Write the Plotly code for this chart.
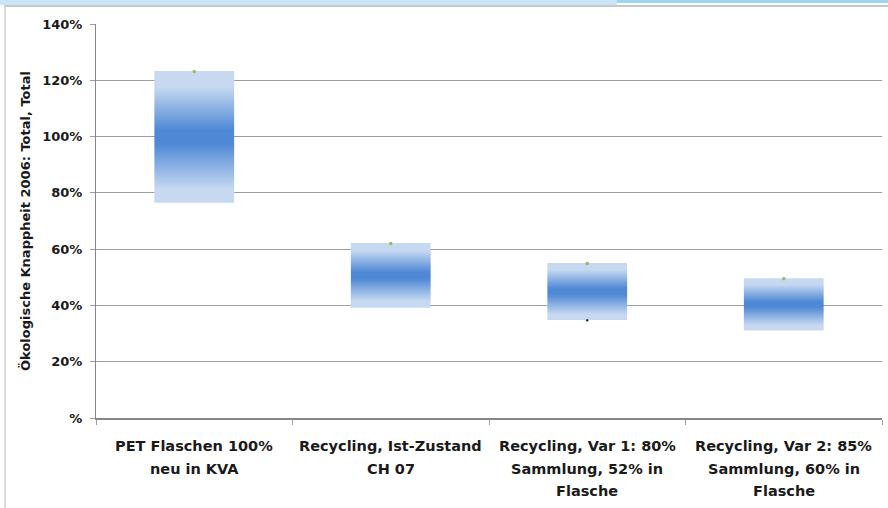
import plotly.graph_objects as go

# ---- data ----
categories = [
    "PET Flaschen 100%<br>neu in KVA",
    "Recycling, Ist-Zustand<br>CH 07",
    "Recycling, Var 1: 80%<br>Sammlung, 52% in<br>Flasche",
    "Recycling, Var 2: 85%<br>Sammlung, 60% in<br>Flasche",
]
low_values = [0.765, 0.392, 0.348, 0.311]
high_values = [1.233, 0.622, 0.551, 0.497]
marker_top = [1.231, 0.620, 0.549, 0.495]
marker_low = [None, None, 0.347, None]
y_tickvals = [0, 0.2, 0.4, 0.6, 0.8, 1.0, 1.2, 1.4]
y_ticktext = ["%", "20%", "40%", "60%", "80%", "100%", "120%", "140%"]
y_title = "Ökologische Knappheit 2006: Total, Total"

# ---- style ----
W, H = 888, 508
ML, MR, MT, MB = 96, 6, 24, 90
HALF = 0.203
LIGHT = "#c6d9f1"
DARK = "#4f88d5"
FONT = "DejaVu Sans"
TXT = "#1a1a1a"
LABEL_SIZE = 14.5
LINE_GAP = 22.5
FIRST_OFFSET = 18

fig = go.Figure()

for i, (lo, hi) in enumerate(zip(low_values, high_values)):
    fig.add_trace(go.Scatter(
        x=[i - HALF, i + HALF, i + HALF, i - HALF, i - HALF],
        y=[lo, lo, hi, hi, lo],
        mode="lines",
        line=dict(width=0, color=LIGHT),
        fill="toself",
        fillgradient=dict(
            type="vertical",
            colorscale=[[0, LIGHT], [0.1, LIGHT], [0.45, DARK], [0.55, DARK],
                        [0.88, LIGHT], [1, LIGHT]],
        ),
        hoverinfo="skip",
        showlegend=False,
    ))

xs = list(range(len(categories)))
fig.add_trace(go.Scatter(
    x=xs, y=marker_top, mode="markers",
    marker=dict(symbol="square", size=3, color="#9bbb59"),
    showlegend=False,
))
fig.add_trace(go.Scatter(
    x=xs, y=marker_low, mode="markers",
    marker=dict(symbol="square", size=2, color="#000000"),
    showlegend=False,
))

# category labels, one annotation per line for Excel-like line spacing
annotations = []
for i, cat in enumerate(categories):
    for k, line in enumerate(cat.split("<br>")):
        annotations.append(dict(
            x=i, y=0, xref="x", yref="y", text="<b>%s</b>" % line,
            showarrow=False, xanchor="center", yanchor="top",
            yshift=-(FIRST_OFFSET + k * LINE_GAP),
            font=dict(family=FONT, size=LABEL_SIZE, color=TXT),
        ))

pw = W - ML - MR
ph = H - MT - MB


def px(x):
    return (x - ML) / pw


def py(y):
    return (H - MB - y) / ph


shapes = [
    dict(type="rect", xref="paper", yref="paper", x0=px(0), x1=px(617),
         y0=py(0), y1=py(5), fillcolor="#c8e6f8", line=dict(width=0), layer="below"),
    dict(type="rect", xref="paper", yref="paper", x0=px(617), x1=px(W),
         y0=py(0), y1=py(3), fillcolor="#9dd4f1", line=dict(width=0), layer="below"),
    dict(type="line", xref="paper", yref="paper", x0=px(4), x1=px(W),
         y0=py(6), y1=py(6), line=dict(color="#b4b4b4", width=1.5)),
    dict(type="line", xref="paper", yref="paper", x0=px(5), x1=px(5),
         y0=py(6), y1=py(H), line=dict(color="#d0d0d0", width=1.5)),
]

fig.update_layout(
    width=W, height=H,
    margin=dict(l=ML, r=MR, t=MT, b=MB),
    paper_bgcolor="white", plot_bgcolor="white",
    font=dict(family=FONT, size=13, color=TXT),
    showlegend=False,
    shapes=shapes,
    annotations=annotations,
    xaxis=dict(
        range=[-0.5, len(categories) - 0.5],
        tickmode="array", tickvals=xs, showticklabels=False,
        ticks="", showgrid=False, zeroline=False,
        showline=True, linecolor="#868686", linewidth=2,
        minor=dict(tick0=-0.5, dtick=1, ticks="outside", ticklen=5,
                   tickcolor="#a0a0a0", showgrid=False),
        fixedrange=True,
    ),
    yaxis=dict(
        range=[0, 1.4],
        tickmode="array", tickvals=y_tickvals, ticktext=y_ticktext,
        ticks="outside", ticklen=5, tickcolor="#a0a0a0",
        ticklabelstandoff=5,
        showgrid=True, gridcolor="#9e9e9e", gridwidth=1.2,
        zeroline=False,
        showline=True, linecolor="#868686", linewidth=1,
        tickfont=dict(family=FONT, size=13, color=TXT, weight="bold"),
        title=dict(text=y_title, font=dict(family=FONT, size=13, color=TXT, weight="bold"),
                   standoff=8),
        fixedrange=True,
    ),
)

fig.write_html("out.html")
